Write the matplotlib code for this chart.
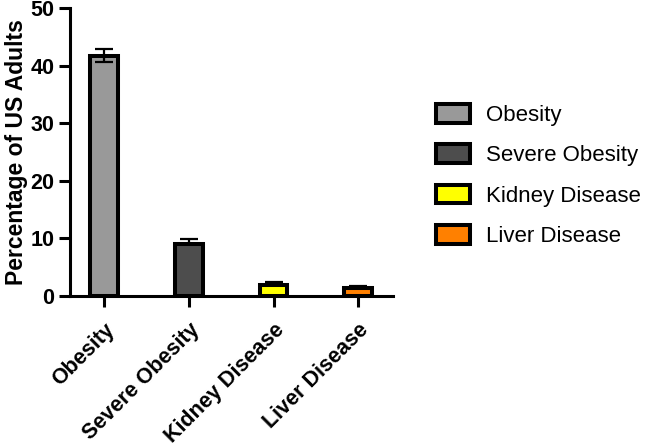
import matplotlib.pyplot as plt

plt.rcParams['font.family'] = ['Liberation Sans', 'DejaVu Sans']

categories = ["Obesity", "Severe Obesity", "Kidney Disease", "Liver Disease"]
values = [41.6, 9.1, 1.9, 1.4]
err_up = [1.3, 0.7, 0.5, 0.4]
err_down = [1.0, 0.0, 0.0, 0.0]
colors = ["#999999", "#4d4d4d", "#ffff00", "#ff8000"]

fig = plt.figure(figsize=(6.46, 4.43), dpi=100)
ax = fig.add_axes([0.108, 0.332, 0.5, 0.65])

x = range(len(categories))
bars = ax.bar(x, values, width=0.33, color=colors, edgecolor="black",
              linewidth=2.9, zorder=2)
ax.errorbar(x, values, yerr=[err_down, err_up], fmt="none", ecolor="black",
            elinewidth=1.6, capsize=6.5, capthick=1.6, zorder=3)

ax.set_xlim(-0.41, 3.41)
ax.set_ylim(0, 50)
ax.set_yticks([0, 10, 20, 30, 40, 50])
ax.set_xticks(list(x))
ax.set_xticklabels(categories, rotation=45, ha="right", rotation_mode="anchor",
                   fontsize=15.5, fontweight="bold")
for t in ax.get_yticklabels():
    t.set_fontsize(15.5)
    t.set_fontweight("bold")
ax.set_ylabel("Percentage of US Adults", fontsize=16.5, fontweight="bold", labelpad=2)

for s in ["top", "right"]:
    ax.spines[s].set_visible(False)
for s in ["left", "bottom"]:
    ax.spines[s].set_linewidth(2.2)
ax.tick_params(width=2.2, length=8)
ax.tick_params(axis="x", pad=9)
ax.tick_params(axis="y", pad=3)

fig.legend(bars, categories, loc="upper left", bbox_to_anchor=(0.657, 0.79),
           frameon=False, fontsize=16, handlelength=1.55, handleheight=0.9,
           handletextpad=0.7, labelspacing=0.83, borderpad=0)

fig.savefig("out.png", dpi=100)
